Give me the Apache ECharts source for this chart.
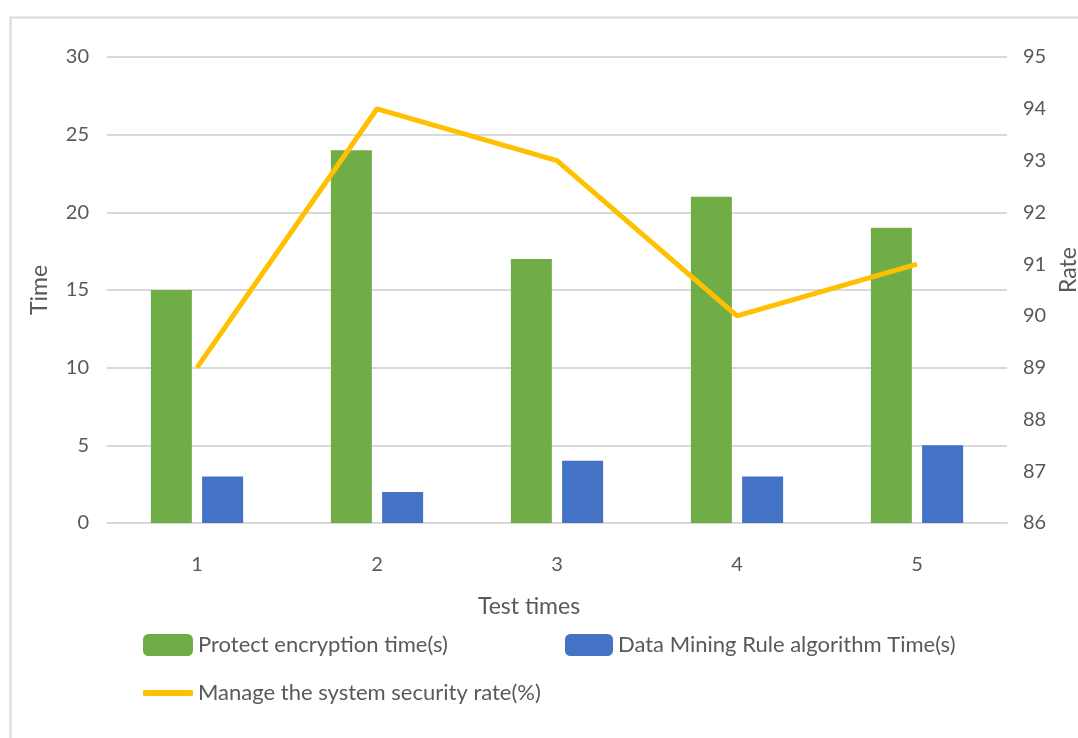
<!DOCTYPE html>
<html>
<head>
<meta charset="utf-8">
<script src="https://cdn.jsdelivr.net/npm/echarts@6/dist/echarts.min.js"></script>
<style>
html,body{margin:0;padding:0;background:#fff;overflow:hidden;}
#c{width:1078px;height:738px;}
</style>
</head>
<body>
<div id="c"></div>
<script>
const categories = ['1', '2', '3', '4', '5'];
const protectTime = [15, 24, 17, 21, 19];
const miningTime = [3, 2, 4, 3, 5];
const securityRate = [89, 94, 93, 90, 91];
const seriesNames = ['Protect encryption time(s)', 'Data Mining Rule algorithm Time(s)', 'Manage the system security rate(%)'];

const FONT = 'Lato';
const TXT = '#595959';
const chart = echarts.init(document.getElementById('c'), null, {renderer: 'canvas'});
chart.setOption({
  backgroundColor: '#fff',
  animation: false,
  textStyle: {fontFamily: FONT},
  graphic: [{
    type: 'rect', left: 8, top: 15,
    shape: {width: 1100, height: 760},
    style: {fill: 'none', stroke: '#d9d9d9', lineWidth: 2}
  }],
  grid: {left: 107, right: 71, top: 57, bottom: 215, containLabel: false, outerBoundsMode: 'none'},
  legend: [
    {data: [seriesNames[0]], left: 138, top: 629, itemWidth: 50, itemHeight: 22, itemGap: 10,
     textStyle: {fontSize: 22, color: TXT, fontFamily: FONT}},
    {data: [seriesNames[1]], left: 560, top: 629, itemWidth: 48, itemHeight: 22,
     textStyle: {fontSize: 22, color: TXT, fontFamily: FONT}},
    {data: [{name: seriesNames[2], icon: 'roundRect'}], left: 138, top: 677, itemWidth: 50, itemHeight: 6,
     textStyle: {fontSize: 22, color: TXT, fontFamily: FONT}}
  ],
  xAxis: {
    type: 'category', data: categories,
    name: 'Test times', nameLocation: 'middle', nameGap: 72,
    nameTextStyle: {fontSize: 23, color: TXT, fontFamily: FONT, padding: [0, 56, 0, 0]},
    axisLine: {show: true, lineStyle: {color: '#d9d9d9', width: 2}},
    axisTick: {show: false},
    axisLabel: {fontSize: 20, color: TXT, margin: 32, fontFamily: FONT}
  },
  yAxis: [
    {
      type: 'value', min: 0, max: 30, interval: 5,
      name: 'Time', nameLocation: 'middle', nameGap: 56, nameRotate: 90,
      nameTextStyle: {fontSize: 23, color: TXT, fontFamily: FONT},
      axisLine: {show: false}, axisTick: {show: false},
      axisLabel: {fontSize: 20, color: TXT, margin: 18, fontFamily: FONT},
      splitLine: {show: true, lineStyle: {color: '#d9d9d9', width: 2}}
    },
    {
      type: 'value', min: 86, max: 95, interval: 1, position: 'right',
      name: 'Rate', nameLocation: 'middle', nameGap: 32, nameRotate: 90,
      nameTextStyle: {fontSize: 23, color: TXT, fontFamily: FONT, padding: [0, 0, 0, 40]},
      axisLine: {show: false}, axisTick: {show: false},
      axisLabel: {fontSize: 20, color: TXT, margin: 16, fontFamily: FONT},
      splitLine: {show: false}
    }
  ],
  series: [
    {name: seriesNames[0], type: 'bar', data: protectTime, barWidth: 41, barGap: '25%',
     itemStyle: {color: '#70AD47'}},
    {name: seriesNames[1], type: 'bar', data: miningTime, barWidth: 41,
     itemStyle: {color: '#4472C4'}},
    {name: seriesNames[2], type: 'line', yAxisIndex: 1, data: securityRate,
     symbol: 'none', lineStyle: {color: '#FFC000', width: 5}, itemStyle: {color: '#FFC000'}}
  ]
});
</script>
</body>
</html>
